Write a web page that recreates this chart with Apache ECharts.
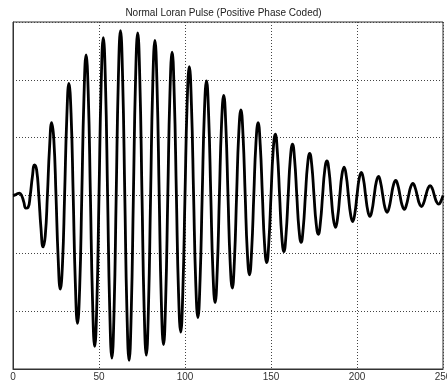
<!DOCTYPE html>
<html>

<head>
	<meta charset="utf-8">
	<script type="text/javascript" src="https://cdn.jsdelivr.net/npm/echarts@6/dist/echarts.min.js"></script>
</head>

<body style="margin:0;">
	<div id="main" style="width: 447px; height:383px; position:absolute;"></div>

	<script type="text/javascript">

		// sample spacing along the time axis (microseconds)
		var step = 1.25;

		// pulse amplitude, one value every 1.25 us from 0 to 250
		var pulse = [
			0, 0.01, 0.03, 0.04, 0, -0.11, -0.22, -0.21,
			0, 0.32, 0.53, 0.44, 0, -0.56, -0.89, -0.70,
			0, 0.83, 1.26, 0.96, 0, -1.08, -1.62, -1.20,
			0, 1.32, 1.94, 1.42, 0, -1.52, -2.21, -1.61,
			0, 1.69, 2.43, 1.76, 0, -1.82, -2.61, -1.87,
			0, 1.91, 2.73, 1.95, 0, -1.98, -2.81, -2.00,
			0, 2.01, 2.85, 2.01, 0, -2.01, -2.85, -2.01,
			0, 2.00, 2.81, 1.98, 0, -1.96, -2.76, -1.94,
			0, 1.91, 2.68, 1.88, 0, -1.84, -2.58, -1.81,
			0, 1.77, 2.48, 1.73, 0, -1.69, -2.36, -1.65,
			0, 1.60, 2.23, 1.56, 0, -1.51, -2.11, -1.47,
			0, 1.42, 1.98, 1.38, 0, -1.33, -1.85, -1.29,
			0, 1.24, 1.73, 1.20, 0, -1.15, -1.60, -1.11,
			0, 1.07, 1.48, 1.03, 0, -0.99, -1.37, -0.95,
			0, 0.91, 1.26, 0.87, 0, -0.84, -1.16, -0.80,
			0, 0.77, 1.06, 0.73, 0, -0.70, -0.97, -0.67,
			0, 0.64, 0.89, 0.61, 0, -0.58, -0.81, -0.56,
			0, 0.53, 0.73, 0.51, 0, -0.48, -0.67, -0.46,
			0, 0.44, 0.60, 0.42, 0, -0.40, -0.55, -0.38,
			0, 0.36, 0.49, 0.34, 0, -0.32, -0.45, -0.31,
			0, 0.29, 0.40, 0.28, 0, -0.26, -0.36, -0.25,
			0, 0.24, 0.33, 0.22, 0, -0.21, -0.29, -0.20,
			0, 0.19, 0.26, 0.18, 0, -0.17, -0.24, -0.16,
			0, 0.15, 0.21, 0.14, 0, -0.14, -0.19, -0.13,
			0, 0.12, 0.17, 0.12, 0, -0.11, -0.15, -0.10,
			0
		];

		var xTicks = [0, 50, 100, 150, 200, 250];

		var lineData = [];
		for (var i = 0; i < pulse.length; i++) {
			lineData.push([i * step, pulse[i]]);
		}

		var gridLine = { show: true, lineStyle: { color: '#444', width: 1, type: [1, 2] } };
		var font = 'Liberation Sans, Arial, sans-serif';

		var chart = echarts.init(document.getElementById('main'));
		chart.setOption({
			animation: false,
			backgroundColor: '#fff',
			title: {
				text: 'Normal Loran Pulse (Positive Phase Coded)',
				left: 'center',
				top: 3,
				textStyle: { fontSize: 10, fontWeight: 'normal', color: '#222', fontFamily: font }
			},
			grid: {
				left: 13, right: 4, top: 22, bottom: 14,
				show: true, borderColor: '#333', borderWidth: 1,
				outerBoundsMode: 'none'
			},
			xAxis: {
				type: 'value',
				min: 0, max: 250, interval: 50,
				axisLine: { show: true, onZero: false, lineStyle: { color: '#333' } },
				axisTick: { show: false },
				axisLabel: {
					color: '#333', fontSize: 10, fontFamily: font, margin: 3,
					showMaxLabel: true,
					alignMinLabel: 'center',
					alignMaxLabel: 'center',
					formatter: function (v) { return xTicks.indexOf(v) >= 0 ? String(v) : ''; }
				},
				splitLine: gridLine
			},
			yAxis: {
				type: 'value',
				min: -3, max: 3, interval: 1,
				axisLine: { show: true, onZero: false, lineStyle: { color: '#333' } },
				axisTick: { show: false },
				axisLabel: { show: false },
				splitLine: gridLine
			},
			series: [{
				type: 'line',
				data: lineData,
				smooth: true,
				showSymbol: false,
				lineStyle: { color: '#000', width: 2.8 }
			}]
		});

	</script>
</body>

</html>
